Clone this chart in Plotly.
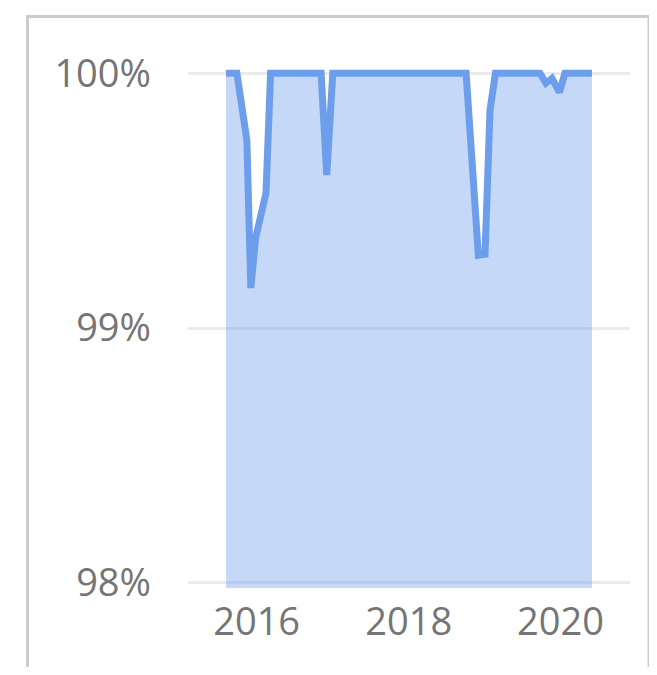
import plotly.graph_objects as go

# Data (share of uptime)
dates = [
    "2015-08-07", "2015-09-28", "2015-11-15", "2015-12-04", "2015-12-27",
    "2016-02-15", "2016-03-08", "2016-11-06", "2016-12-03", "2017-01-01",
    "2018-10-04", "2018-12-02", "2019-01-03", "2019-01-27", "2019-02-22",
    "2019-09-24", "2019-10-23", "2019-11-21", "2019-12-27", "2020-01-22",
    "2020-05-31",
]
values = [
    1.0, 1.0, 0.99737, 0.99157, 0.99353,
    0.99530, 1.0, 1.0, 0.99600, 1.0,
    1.0, 0.99286, 0.99290, 0.99855, 1.0,
    1.0, 0.99961, 0.99980, 0.99925, 1.0,
    1.0,
]
y_ticks = [0.98, 0.99, 1.0]
x_ticks = ["2016-01-01", "2018-01-01", "2020-01-01"]
x_tick_labels = ["2016", "2018", "2020"]

LINE = "#6d9eeb"
FILL = "rgba(109,158,235,0.4)"
TEXT = "#757575"
FONT = "Open Sans"

fig = go.Figure()
fig.add_trace(go.Scatter(
    x=dates, y=values, mode="lines",
    line=dict(color=LINE, width=7),
    fill="tozeroy", fillcolor=FILL,
    hoverinfo="skip",
))

fig.update_layout(
    width=649, height=659,
    margin=dict(l=180, r=27, t=55, b=79),
    paper_bgcolor="white", plot_bgcolor="white",
    showlegend=False,
    font=dict(family=FONT, size=38, color=TEXT),
    shapes=[dict(
        type="rect", xref="paper", yref="paper",
        x0=-0.363, x1=1.043, y0=-0.2, y1=1.0886,
        line=dict(color="#cccccc", width=3), fillcolor="rgba(0,0,0,0)",
        layer="below",
    )],
)
fig.update_xaxes(
    type="date", range=["2015-02-05", "2020-11-30"],
    tickvals=x_ticks, ticktext=x_tick_labels,
    showgrid=False, zeroline=False, showline=False, ticks="",
    ticklabelstandoff=8,
    tickfont=dict(family=FONT, size=38, color=TEXT),
)
fig.update_yaxes(
    range=[0.97980, 1.00040],
    tickvals=y_ticks, tickformat=".0%",
    showgrid=True, gridcolor="#ebebeb", gridwidth=3,
    zeroline=False, showline=False, ticks="",
    ticklabelstandoff=36,
    tickfont=dict(family=FONT, size=38, color=TEXT),
)

fig.write_html("out.html")
